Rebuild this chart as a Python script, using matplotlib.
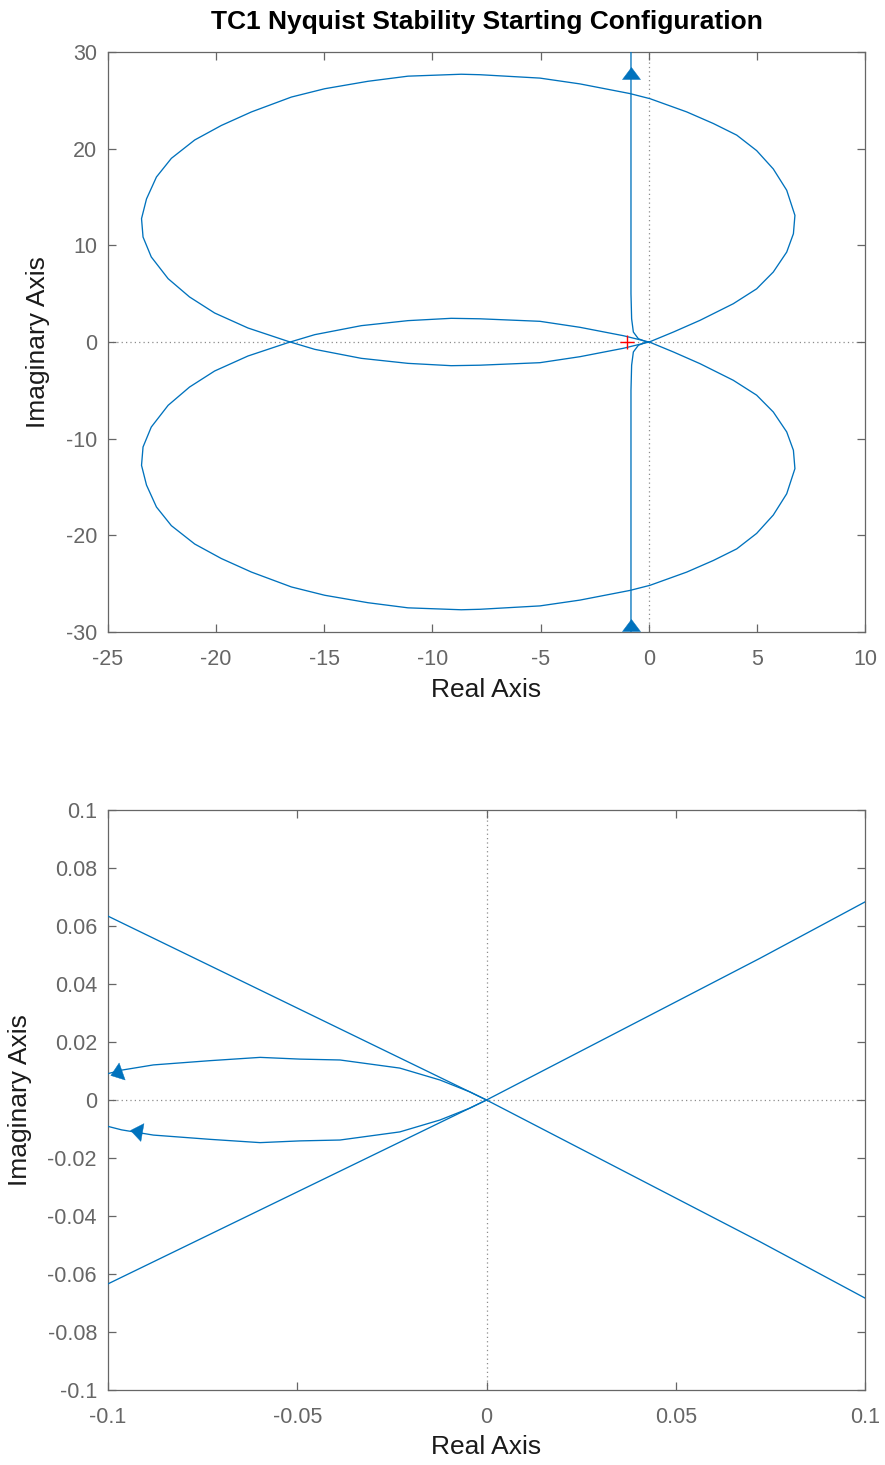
import numpy as np
import matplotlib
matplotlib.use("Agg")
import matplotlib.pyplot as plt
from matplotlib.markers import MarkerStyle
from matplotlib.transforms import Affine2D
from matplotlib.path import Path

plt.rcParams['font.family'] = ['Liberation Sans', 'DejaVu Sans']
plt.rcParams['axes.unicode_minus'] = False

# ---------------- data ----------------
# positive-frequency "loop" branch: upper big lobe + lower small arc
loop_re = [0.0, 0.0723, 0.1, 1.14, 2.37, 3.91, 4.99, 5.76, 6.38, 6.69, 6.76, 6.38, 5.76,
           4.99, 4.07, 2.99, 1.76, 0.06, -0.87, -3.18, -5.03, -7.8, -8.67, -11.13,
           -12.98, -14.98, -16.52, -18.37, -19.76, -20.99, -22.07, -22.76, -23.22,
           -23.45, -23.38, -23.0, -22.22, -21.23, -20.07, -18.53, -16.68, -15.44,
           -13.29, -11.13, -9.13, -7.8, -5.03, -3.18, -1.17, -0.1, 0.0]
loop_im = [0.0, 0.0489, 0.0683, 1.03, 2.24, 3.96, 5.5, 7.24, 9.3, 11.2, 13.1, 15.7, 17.9,
           19.8, 21.4, 22.6, 23.8, 25.17, 25.7, 26.7, 27.3, 27.65, 27.7, 27.5,
           26.97, 26.2, 25.34, 23.8, 22.4, 20.9, 19.0, 17.07, 14.8,
           12.76, 10.86, 8.8, 6.55, 4.66, 3.0, 1.45, 0.07, -0.76,
           -1.69, -2.21, -2.45, -2.4, -2.14, -1.52, -0.65, -0.0634, 0.0]

# low-frequency branch (near-vertical asymptote), from the origin outward
vert_re = [0.0, -0.0044, -0.0123, -0.0229, -0.0387, -0.0493, -0.0598, -0.0731, -0.088,
           -0.0964, -0.1003, -0.17, -0.48, -0.71, -0.79, -0.82, -0.82]
vert_im = [0.0, 0.0028, 0.0069, 0.011, 0.0138, 0.0141, 0.0147, 0.01356, 0.0121,
           0.0103, 0.009, 0.07, 0.34, 1.03, 2.4, 5.0, 40.0]

# direction arrows: (re, im, d_re, d_im)
arrows_top = [(-0.82, 27.85, 0.0, 1.0), (-0.82, -29.3, 0.0, 1.0)]
arrows_zoom = [(-0.0979, 0.0094, -0.0039, -0.0018), (-0.0927, -0.0107, -0.0035, 0.0008)]

critical_point = (-1.0, 0.0)

top_xticks = [-25, -20, -15, -10, -5, 0, 5, 10]
top_yticks = [-30, -20, -10, 0, 10, 20, 30]
zoom_xticks = [-0.1, -0.05, 0, 0.05, 0.1]
zoom_xlabels = ['-0.1', '-0.05', '0', '0.05', '0.1']
zoom_yticks = [-0.1, -0.08, -0.06, -0.04, -0.02, 0, 0.02, 0.04, 0.06, 0.08, 0.1]
zoom_ylabels = ['-0.1', '-0.08', '-0.06', '-0.04', '-0.02', '0', '0.02', '0.04', '0.06', '0.08', '0.1']

title = 'TC1 Nyquist Stability Starting Configuration'

# ---------------- styling ----------------
W, H = 885, 1465
LINE = '#0072BD'
AX_GRAY = '#666666'

fig = plt.figure(figsize=(W / 100, H / 100), dpi=100)
ax1 = fig.add_axes([108 / W, 1 - 632 / H, 757 / W, 580 / H])
ax2 = fig.add_axes([108 / W, 1 - 1390 / H, 757 / W, 580 / H])

tri = Path([(6, 0), (-6, 9), (-6, -9), (6, 0)],
           [Path.MOVETO, Path.LINETO, Path.LINETO, Path.CLOSEPOLY])


def draw(ax, xlim, ylim):
    ax.set_xlim(*xlim)
    ax.set_ylim(*ylim)
    ax.axhline(0, color='#8c8c8c', lw=0.9, ls=(0, (1, 2.5)), zorder=1)
    ax.axvline(0, color='#8c8c8c', lw=0.9, ls=(0, (1, 2.5)), zorder=1)
    lr, li = np.array(loop_re), np.array(loop_im)
    vr, vi = np.array(vert_re), np.array(vert_im)
    for xr, xi in [(lr, li), (lr, -li), (vr, vi), (vr, -vi)]:
        ax.plot(xr, xi, color=LINE, lw=0.95, zorder=3)
    for sp in ax.spines.values():
        sp.set_color(AX_GRAY)
        sp.set_linewidth(0.9)
    ax.tick_params(direction='in', length=5.5, width=0.9, colors=AX_GRAY,
                   top=True, right=True, labelsize=15.5)
    ax.tick_params(axis='x', pad=12)
    ax.tick_params(axis='y', pad=8)


def add_arrows(ax, arrows):
    for (x, y, dx, dy) in arrows:
        p0 = ax.transData.transform((x, y))
        p1 = ax.transData.transform((x + dx, y + dy))
        ang = np.degrees(np.arctan2(p1[1] - p0[1], p1[0] - p0[0]))
        m = MarkerStyle(tri, transform=Affine2D().rotate_deg(ang))
        ax.plot([x], [y], marker=m, ms=13, color=LINE, mec=LINE, mew=0.3,
                ls='none', zorder=4, clip_on=False)


draw(ax1, (-25, 10), (-30, 30))
ax1.set_xticks(top_xticks)
ax1.set_xticklabels([str(v) for v in top_xticks])
ax1.set_yticks(top_yticks)
ax1.set_yticklabels([str(v) for v in top_yticks])
ax1.plot([critical_point[0]], [critical_point[1]], marker='+', ms=10, mew=1.0,
         color='red', ls='none', zorder=5)
add_arrows(ax1, arrows_top)
ax1.set_title(title, fontsize=19, fontweight='bold', color='black', y=1.052, pad=0, va='center')
ax1.set_xlabel('Real Axis', fontsize=19, color='#1a1a1a', va='center')
ax1.xaxis.set_label_coords(0.5, -0.100)
ax1.set_ylabel('Imaginary Axis', fontsize=19, color='#1a1a1a', va='center')
ax1.yaxis.set_label_coords(-0.0925, 0.5)

draw(ax2, (-0.1, 0.1), (-0.1, 0.1))
ax2.set_xticks(zoom_xticks)
ax2.set_xticklabels(zoom_xlabels)
ax2.set_yticks(zoom_yticks)
ax2.set_yticklabels(zoom_ylabels)
add_arrows(ax2, arrows_zoom)
ax2.set_xlabel('Real Axis', fontsize=19, color='#1a1a1a', va='center')
ax2.xaxis.set_label_coords(0.5, -0.0983)
ax2.set_ylabel('Imaginary Axis', fontsize=19, color='#1a1a1a', va='center')
ax2.yaxis.set_label_coords(-0.116, 0.5)

fig.savefig('out.png', dpi=100, facecolor='white')
